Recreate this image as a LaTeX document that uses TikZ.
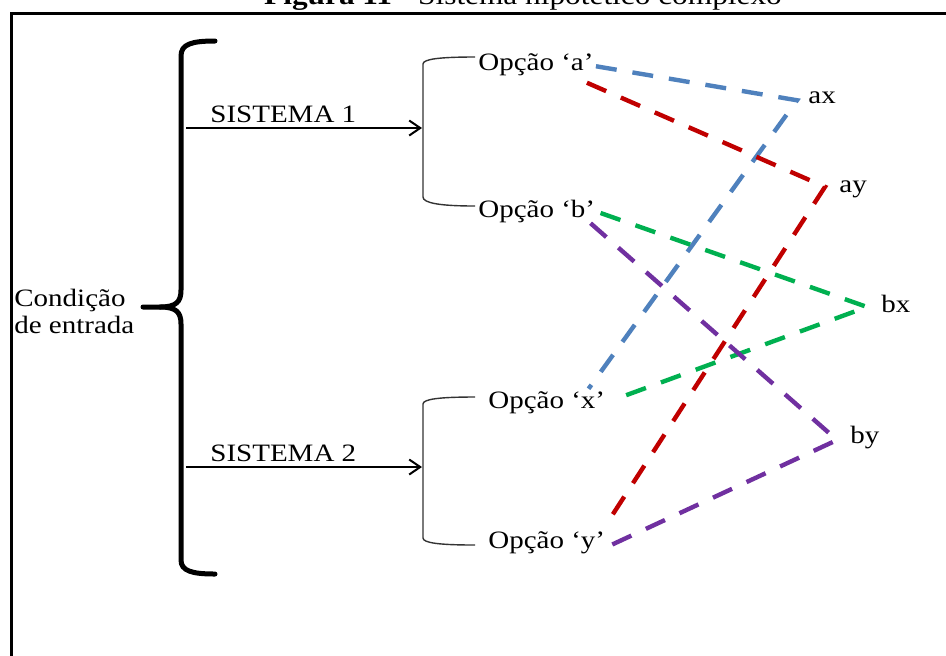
\documentclass[tikz,border=0pt]{standalone}
\usepackage{fontspec}
\setmainfont{Liberation Serif}[FakeStretch=1.16]
\usetikzlibrary{arrows.meta}

\definecolor{lnblue}{HTML}{4F81BD}
\definecolor{lnred}{HTML}{C00000}
\definecolor{lngreen}{HTML}{00B050}
\definecolor{lnpurple}{HTML}{7030A0}

\begin{document}
\begin{tikzpicture}[x=0.5pt, y=-0.5pt,
    every node/.style={font=\fontsize{12.5}{13.5}\selectfont, inner sep=1pt},
    opt/.style={anchor=base west},
    brace/.style={line width=2.5pt, line cap=round},
    fork/.style={line width=0.7pt, draw=black!80},
    feed/.style={line width=1pt, -{Straight Barb[length=5.5pt,width=7.5pt]}},
    link/.style={line width=2.2pt, dash pattern=on 10.5pt off 8pt}]
    \useasboundingbox (0,0) rectangle (946,655);
    \clip (0,0) rectangle (946,655);

    % Frame and caption
    \draw[line width=1.5pt] (11,13) rectangle (990,700);
    \node[anchor=base, font=\fontsize{13.5}{16}\selectfont] (title) at (523,4)
      {\textbf{Figura 11} - Sistema hipotético complexo};

    % Input condition and its brace
    \node[anchor=west, align=left] (cond) at (12,311) {Condição\\de entrada};
    \coordinate (tip) at (143,307);
    \draw[brace] (215,41) .. controls (192,41) and (181,44) .. (181,56)
          -- (181,290) .. controls (181,302) and (176,307) .. (160,307) -- (tip);
    \draw[brace] (160,307) .. controls (176,307) and (181,312) .. (181,324)
          -- (181,560) .. controls (181,571) and (192,574) .. (215,574);

    % Sistema 1
    \coordinate (s1) at (186,128);
    \coordinate (f1) at (422,128);
    \draw[feed] (s1) -- (f1);
    \node[opt] (sys1) at (208,122) {SISTEMA 1};
    \draw[fork] (475,57) .. controls (440,57) and (423,59) .. (423,64)
          -- (423,197) .. controls (423,203) and (440,206) .. (475,206);
    \node[opt] (optA) at (476,70) {Opção ‘a’};
    \node[opt] (optB) at (476,217) {Opção ‘b’};

    % Sistema 2
    \coordinate (s2) at (186,467);
    \coordinate (f2) at (422,467);
    \draw[feed] (s2) -- (f2);
    \node[opt] (sys2) at (208,461) {SISTEMA 2};
    \draw[fork] (475,397) .. controls (440,397) and (423,399) .. (423,404)
          -- (423,538) .. controls (423,543) and (440,545) .. (475,545);
    \node[opt] (optX) at (486,408) {Opção ‘x’};
    \node[opt] (optY) at (486,548) {Opção ‘y’};

    % Combinations
    \node[opt] (ax) at (806,103) {ax};
    \node[opt] (ay) at (837,192) {ay};
    \node[opt] (bx) at (879,312) {bx};
    \node[opt] (by) at (848,443) {by};

    \draw[link, lnblue] ([yshift=-1pt]optA.east)
          -- ([xshift=-4.5pt, yshift=-1.5pt]ax.west)
          -- ([xshift=-9.5pt]optX.north east);
    \draw[link, lnred] ([xshift=-4.5pt, yshift=-2.5pt]optA.south east)
          -- ([xshift=-6pt, yshift=1pt]ay.west)
          -- ([xshift=1.5pt, yshift=5.5pt]optY.north east);
    \draw[link, lngreen] ([xshift=1.5pt, yshift=-1pt]optB.east)
          -- ([xshift=-6pt, yshift=-1.75pt]bx.west)
          -- ([xshift=6.5pt, yshift=2.5pt]optX.east);
    \draw[link, lnpurple] ([xshift=-3.5pt, yshift=0.75pt]optB.south east)
          -- ([xshift=-5.5pt, yshift=-1.5pt]by.west)
          -- ([xshift=1.5pt, yshift=-1.5pt]optY.east);
\end{tikzpicture}
\end{document}
